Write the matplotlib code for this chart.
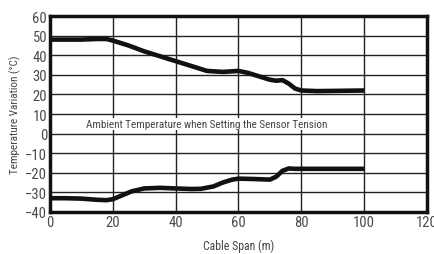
import matplotlib
matplotlib.use('Agg')
import matplotlib.pyplot as plt

plt.rcParams['font.family'] = ['DejaVu Sans Condensed', 'Roboto Condensed', 'Liberation Sans Narrow', 'Liberation Sans']

# upper curve (max temperature variation)
upper_x = [0, 5, 10, 15, 18, 20, 25, 30, 35, 40, 45, 50, 55, 60, 63, 67, 70, 72, 74, 76, 78, 80, 85, 90, 100]
upper_y = [48, 48, 48, 48.3, 48.3, 47.5, 45, 42, 39.5, 37, 34.5, 32, 31.5, 32, 31, 29, 27.5, 27, 27.3, 25.5, 23, 22, 21.7, 21.8, 22]

# lower curve (min temperature variation)
lower_x = [0, 5, 10, 15, 18, 20, 23, 26, 30, 35, 40, 45, 48, 52, 55, 58, 60, 65, 70, 72, 74, 76, 78, 80, 90, 100]
lower_y = [-33, -33, -33.2, -33.8, -34, -33.5, -31.5, -29.5, -28, -27.7, -28, -28.3, -28.2, -27, -25, -23.5, -23, -23.2, -23.5, -22, -19, -17.8, -18, -18, -18, -18]

x_ticks = [0, 20, 40, 60, 80, 100, 120]
y_ticks = [-40, -30, -20, -10, 0, 10, 20, 30, 40, 50, 60]

fig = plt.figure(figsize=(4.34, 2.55), dpi=100)
ax = fig.add_axes([0.115, 0.165, 0.869, 0.768])

ax.plot(upper_x, upper_y, color='#111111', lw=3.3, solid_capstyle='butt', zorder=3)
ax.plot(lower_x, lower_y, color='#111111', lw=3.3, solid_capstyle='butt', zorder=3)

ax.set_xlim(0, 120)
ax.set_ylim(-40, 60)
ax.set_xticks(x_ticks)
ax.set_yticks(y_ticks)
ax.grid(True, color='#222222', lw=1)
ax.set_axisbelow(True)
for s in ax.spines.values():
    s.set_linewidth(2.5)
    s.set_color('#111111')
ax.tick_params(length=0, labelsize=10.5, labelcolor='#4a4a4a', pad=2)

ax.text(50, 5, 'Ambient Temperature when Setting the Sensor Tension', ha='center', va='center',
        fontsize=8, color='#444444', zorder=2,
        bbox=dict(facecolor='white', edgecolor='none', pad=0.8))

ax.set_xlabel('Cable Span (m)', fontsize=8.5, color='#444444', labelpad=7)
ax.set_ylabel('Temperature Variation (°C)', fontsize=8, color='#444444', labelpad=3)

fig.savefig('out.png', dpi=100)
